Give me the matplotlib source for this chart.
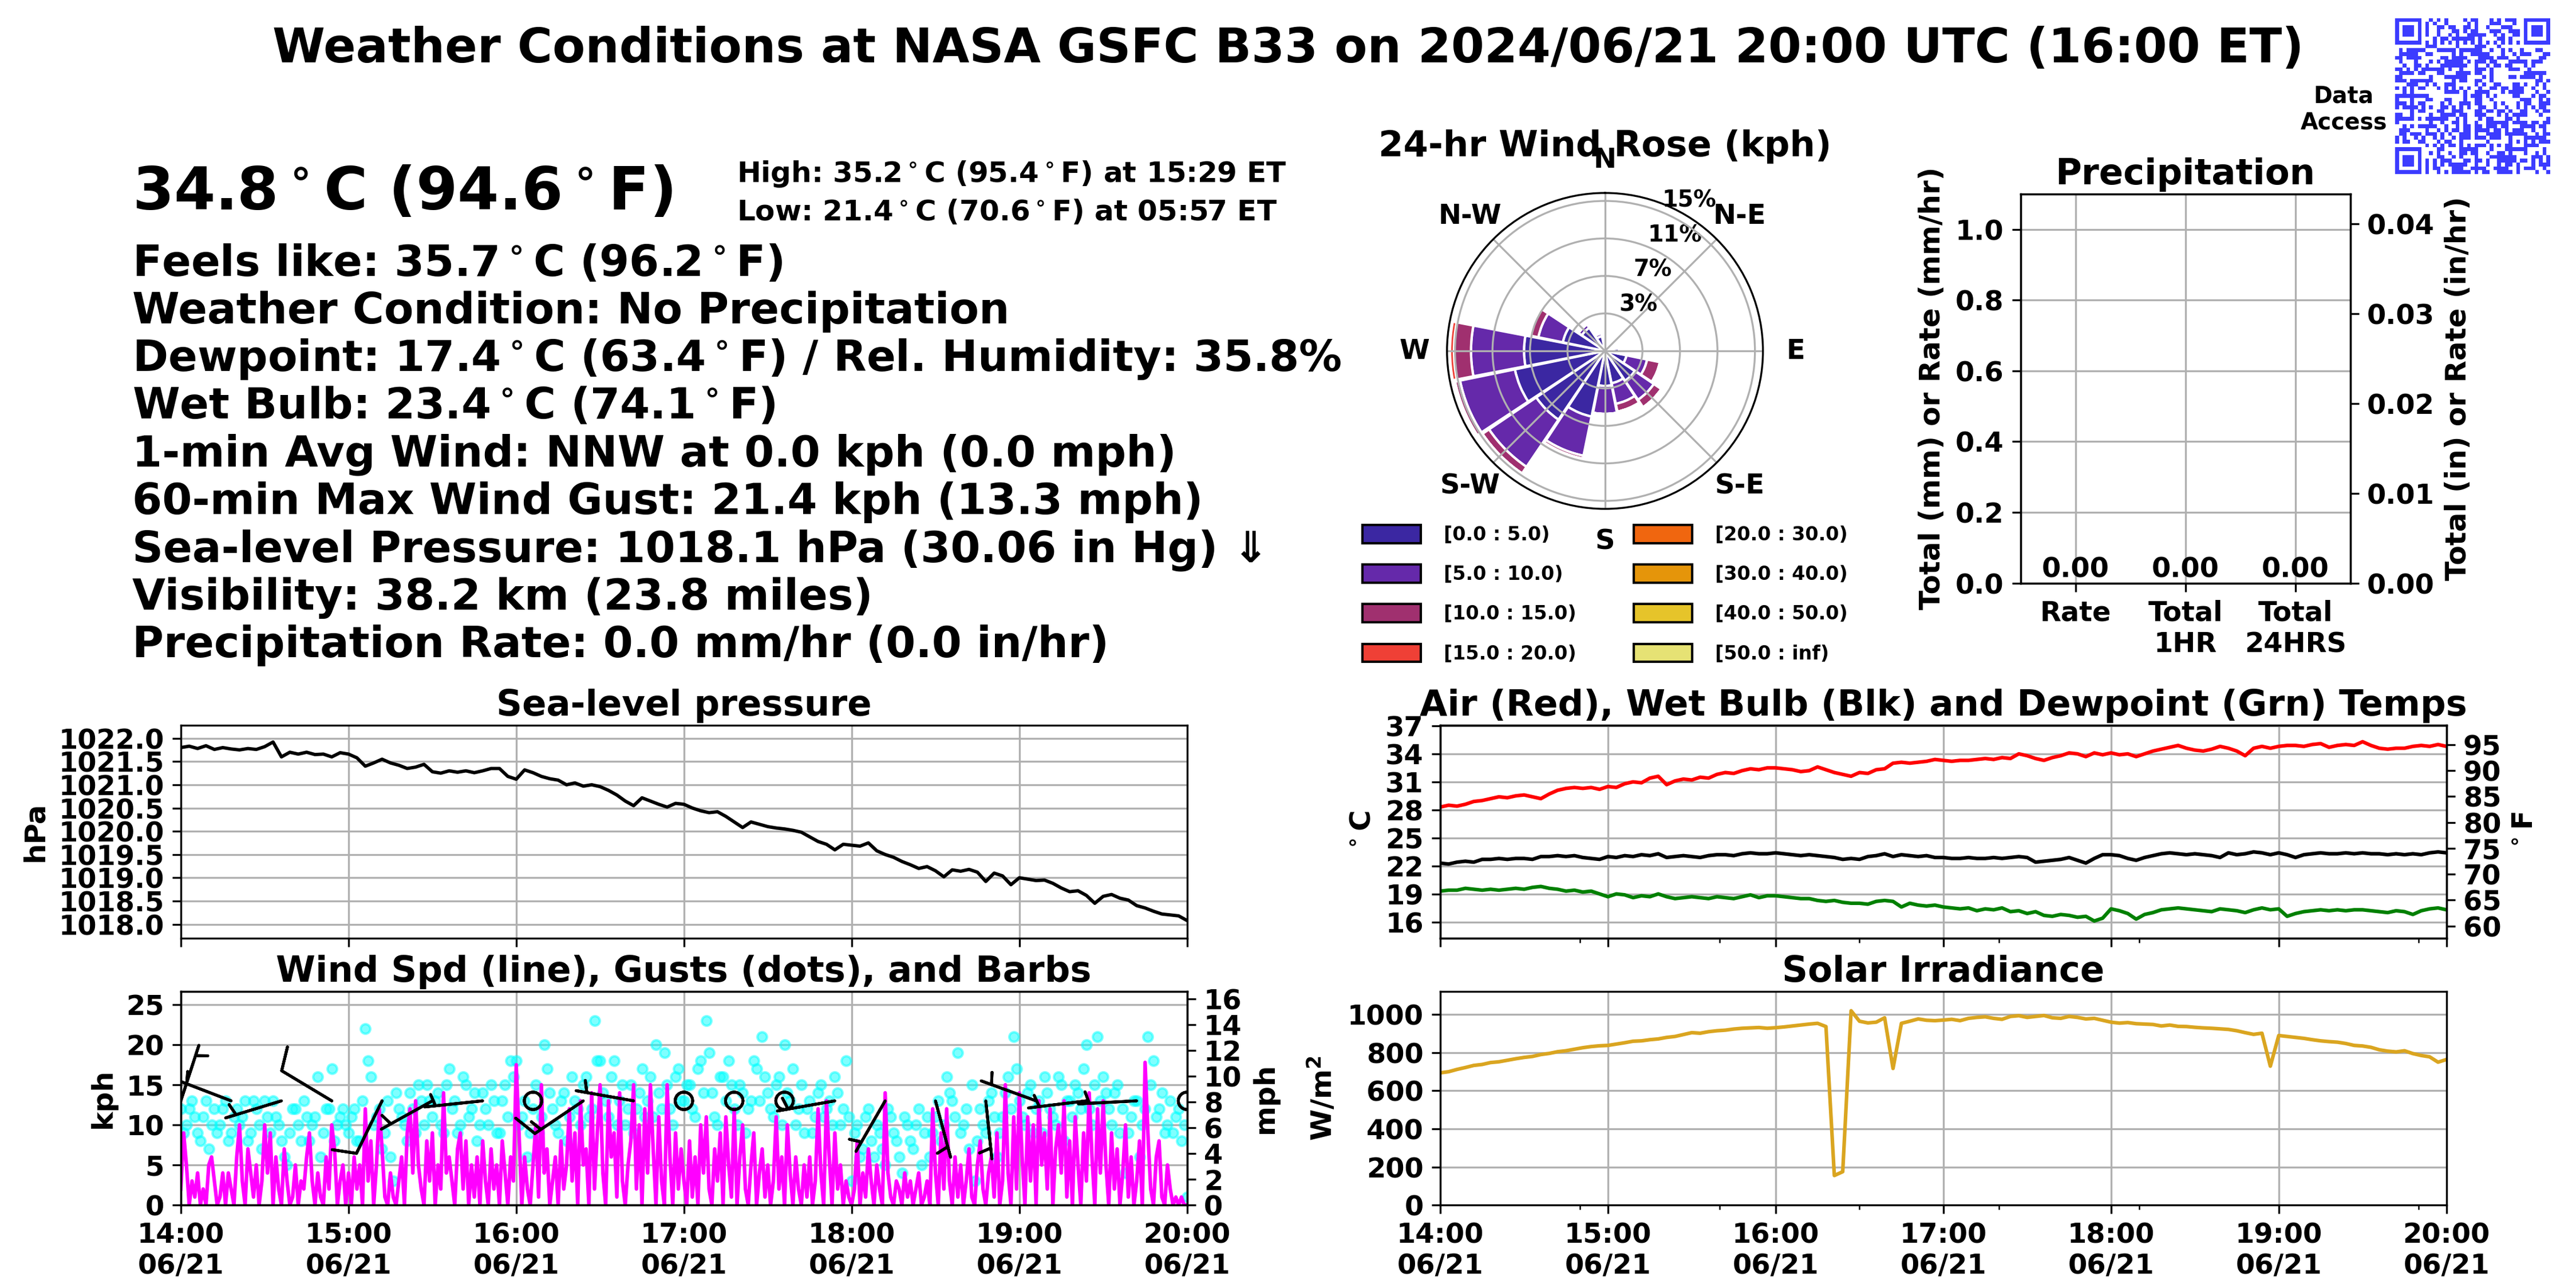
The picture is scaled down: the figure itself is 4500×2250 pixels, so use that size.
import hashlib
import numpy as np
import pandas as pd
import matplotlib
matplotlib.use("Agg")
import matplotlib.pyplot as plt
import matplotlib.dates as mdates
from matplotlib.colors import ListedColormap
from matplotlib.patches import Patch
from matplotlib.ticker import FixedLocator, FormatStrFormatter

# ---------------------------------------------------------------------------
# values
# ---------------------------------------------------------------------------
START, END = "2024-06-21 14:00", "2024-06-21 20:00"

# 3-minute samples 14:00 .. 20:00
pressure_hpa = [
    1021.80, 1021.83, 1021.78, 1021.84, 1021.76, 1021.80, 1021.77, 1021.75, 1021.78, 1021.76,
    1021.82, 1021.92, 1021.60, 1021.70, 1021.66, 1021.70, 1021.65, 1021.66, 1021.60, 1021.69,
    1021.66, 1021.58, 1021.40, 1021.47, 1021.55, 1021.47, 1021.42, 1021.35, 1021.38, 1021.44,
    1021.28, 1021.25, 1021.30, 1021.27, 1021.30, 1021.26, 1021.30, 1021.35, 1021.35, 1021.18,
    1021.12, 1021.32, 1021.26, 1021.18, 1021.13, 1021.10, 1021.00, 1021.04, 1020.97, 1021.00,
    1020.96, 1020.88, 1020.78, 1020.65, 1020.55, 1020.72, 1020.65, 1020.58, 1020.52, 1020.60,
    1020.58, 1020.50, 1020.44, 1020.40, 1020.42, 1020.32, 1020.20, 1020.08, 1020.20, 1020.15,
    1020.10, 1020.07, 1020.05, 1020.02, 1019.98, 1019.88, 1019.78, 1019.72, 1019.60, 1019.72,
    1019.70, 1019.68, 1019.75, 1019.58, 1019.50, 1019.44, 1019.35, 1019.28, 1019.20, 1019.24,
    1019.15, 1019.02, 1019.17, 1019.14, 1019.18, 1019.12, 1018.92, 1019.10, 1019.04, 1018.85,
    1019.00, 1018.97, 1018.94, 1018.95, 1018.88, 1018.78, 1018.70, 1018.72, 1018.62, 1018.45,
    1018.60, 1018.64, 1018.56, 1018.52, 1018.40, 1018.35, 1018.28, 1018.22, 1018.20, 1018.18,
    1018.08,
]

air_c = [
    28.3, 28.5, 28.4, 28.6, 28.9, 29.0, 29.2, 29.4, 29.3, 29.5,
    29.6, 29.4, 29.2, 29.7, 30.1, 30.3, 30.4, 30.3, 30.4, 30.2,
    30.5, 30.4, 30.8, 31.0, 30.9, 31.4, 31.6, 30.7, 31.1, 31.3,
    31.2, 31.5, 31.4, 31.8, 32.0, 31.9, 32.2, 32.4, 32.3, 32.5,
    32.5, 32.4, 32.3, 32.1, 32.2, 32.6, 32.3, 32.0, 31.8, 31.6,
    32.0, 31.9, 32.3, 32.4, 33.0, 33.1, 33.0, 33.1, 33.2, 33.4,
    33.3, 33.2, 33.3, 33.3, 33.4, 33.5, 33.4, 33.6, 33.5, 34.0,
    33.8, 33.5, 33.3, 33.6, 33.8, 34.1, 34.0, 33.7, 34.1, 33.9,
    34.1, 33.9, 34.0, 33.7, 34.0, 34.3, 34.5, 34.7, 34.9, 34.6,
    34.4, 34.3, 34.5, 34.8, 34.6, 34.3, 33.8, 34.6, 34.8, 34.6,
    34.8, 34.9, 34.9, 34.8, 35.0, 35.1, 34.7, 34.9, 35.0, 34.9,
    35.3, 34.9, 34.6, 34.5, 34.6, 34.6, 34.8, 34.9, 34.8, 35.0,
    34.8,
]

wetbulb_c = [
    22.3, 22.2, 22.4, 22.5, 22.4, 22.7, 22.7, 22.8, 22.7, 22.8,
    22.8, 22.7, 23.0, 23.0, 23.1, 23.0, 23.1, 22.9, 22.8, 22.7,
    23.0, 22.9, 23.1, 23.0, 23.2, 23.1, 23.3, 22.9, 23.0, 23.1,
    23.0, 22.9, 23.1, 23.2, 23.2, 23.1, 23.3, 23.4, 23.3, 23.3,
    23.4, 23.3, 23.2, 23.1, 23.2, 23.1, 23.0, 22.9, 22.7, 22.8,
    22.7, 23.0, 23.1, 23.3, 23.0, 23.2, 23.1, 23.0, 23.1, 22.9,
    22.9, 22.8, 22.8, 22.9, 22.8, 22.8, 22.9, 22.8, 22.9, 23.0,
    22.9, 22.4, 22.5, 22.6, 22.7, 22.9, 22.6, 22.3, 22.8, 23.2,
    23.2, 23.1, 22.8, 22.6, 22.9, 23.1, 23.3, 23.4, 23.3, 23.2,
    23.3, 23.2, 23.1, 22.9, 23.4, 23.2, 23.3, 23.5, 23.4, 23.2,
    23.4, 23.2, 22.9, 23.2, 23.3, 23.4, 23.3, 23.3, 23.4, 23.3,
    23.4, 23.3, 23.3, 23.2, 23.3, 23.2, 23.3, 23.2, 23.4, 23.5,
    23.4,
]

dewpoint_c = [
    19.3, 19.4, 19.4, 19.6, 19.5, 19.4, 19.5, 19.4, 19.5, 19.6,
    19.5, 19.7, 19.8, 19.6, 19.5, 19.3, 19.4, 19.2, 19.3, 19.0,
    18.7, 19.0, 18.9, 18.6, 18.8, 18.7, 19.0, 18.7, 18.5, 18.6,
    18.7, 18.6, 18.5, 18.7, 18.6, 18.5, 18.7, 18.9, 18.6, 18.8,
    18.8, 18.7, 18.6, 18.5, 18.5, 18.3, 18.2, 18.3, 18.1, 18.0,
    18.0, 17.9, 18.2, 18.3, 18.2, 17.6, 18.0, 17.8, 17.7, 17.8,
    17.6, 17.5, 17.4, 17.5, 17.2, 17.4, 17.3, 17.5, 17.1, 17.2,
    16.9, 17.1, 16.7, 16.6, 16.8, 16.7, 16.5, 16.6, 16.1, 16.4,
    17.4, 17.2, 16.9, 16.3, 16.8, 17.0, 17.3, 17.4, 17.5, 17.4,
    17.3, 17.2, 17.1, 17.4, 17.3, 17.2, 17.0, 17.3, 17.5, 17.3,
    17.4, 16.6, 16.9, 17.1, 17.2, 17.3, 17.2, 17.3, 17.2, 17.3,
    17.3, 17.2, 17.1, 17.0, 17.2, 17.1, 16.8, 17.2, 17.4, 17.5,
    17.3,
]

solar_wm2 = [
    694, 700, 712, 722, 733, 738, 748, 752, 760, 768,
    775, 780, 790, 796, 805, 810, 818, 826, 832, 836,
    838, 845, 852, 860, 862, 868, 872, 880, 885, 895,
    905, 902, 910, 915, 918, 924, 928, 930, 932, 928,
    931, 935, 940, 945, 950, 954, 937, 155, 175, 1020,
    965, 956, 960, 983, 717, 954, 965, 977, 970, 968,
    971, 975, 968, 980, 985, 988, 980, 975, 990, 994,
    985, 990, 995, 983, 980, 990, 985, 977, 980, 970,
    960, 955, 958, 952, 950, 948, 940, 945, 938, 937,
    933, 930, 928, 925, 922, 915, 905, 896, 902, 729,
    890, 885, 880, 875, 868, 862, 858, 855, 848, 838,
    835, 828, 815, 808, 804, 810, 795, 785, 778, 750,
    764,
]

# 1-minute wind speed (kph)
wind_kph = [
    2, 9, 5, 0, 3, 1, 4, 0, 2, 0, 5, 6, 3, 0, 1, 4, 0, 4, 2, 0, 6, 10, 3, 0, 7, 4, 1, 5, 0, 3,
    10, 4, 9, 0, 6, 2, 0, 7, 3, 0, 1, 5, 0, 3, 2, 6, 9, 3, 0, 4, 1, 0, 6, 2, 10, 7, 0, 3, 5, 0,
    4, 0, 6, 2, 5, 0, 12, 3, 8, 0, 5, 12, 7, 1, 0, 4, 1, 0, 3, 6, 0, 9, 12, 4, 13, 5, 2, 0, 8, 3,
    9, 0, 5, 2, 14, 4, 6, 3, 0, 7, 9, 2, 8, 0, 5, 1, 6, 0, 8, 3, 0, 7, 2, 5, 0, 8, 4, 0, 6, 3,
    17.5, 9, 0, 6, 2, 0, 5, 10, 1, 15, 4, 7, 0, 3, 6, 0, 8, 2, 5, 12, 3, 9, 0, 13, 5, 7, 0, 14, 2, 9,
    15, 4, 0, 13, 6, 9, 1, 14, 3, 0, 5, 8, 15, 2, 10, 0, 12, 4, 15, 7, 0, 11, 3, 0, 15, 6, 0, 9, 2, 7,
    3, 0, 8, 1, 6, 0, 10, 4, 11, 2, 0, 7, 3, 9, 0, 11, 5, 1, 12, 0, 6, 10, 2, 0, 5, 9, 0, 4, 7, 1,
    5, 0, 3, 11, 2, 6, 0, 10, 4, 0, 6, 2, 0, 5, 1, 6, 0, 3, 12, 4, 0, 13, 6, 0, 9, 2, 5, 0, 3, 1,
    0, 2, 8, 0, 4, 1, 7, 3, 0, 5, 2, 0, 14, 4, 1, 0, 3, 2, 0, 4, 1, 3, 0, 2, 4, 0, 1, 3, 0, 12,
    4, 0, 9, 2, 12, 3, 0, 6, 1, 5, 0, 3, 7, 1, 0, 5, 8, 2, 0, 4, 6, 1, 9, 0, 3, 15, 4, 0, 11, 2,
    14, 6, 0, 11, 3, 10, 0, 13, 5, 9, 2, 12, 0, 7, 10, 4, 13, 1, 8, 0, 11, 5, 0, 9, 3, 14, 6, 0, 12, 4,
    13, 5, 0, 9, 2, 7, 0, 4, 10, 1, 6, 0, 3, 8, 0, 17.8, 9, 2, 0, 6, 8, 1, 0, 5, 2, 0, 1, 0, 1, 0,
    0,
]

# gusts (kph) at even minutes 14:00 .. 20:00
gust_even_kph = [
    12, 10, 13, 9, 11, 7, 12, 10, 13, 9, 12, 11, 8, 13, 10,
    13, 9, 11, 8, 5, 12, 10, 13, 8, 11, 6, 12, 17, 10, 12,
    9, 12, 8, 22, 16, 11, 7, 13, 3, 12, 10, 14, 9, 13, 15,
    11, 14, 9, 17, 13, 10, 15, 12, 8, 14, 10, 13, 9, 15, 18,
    18, 11, 6, 12, 9, 20, 14, 10, 13, 8, 16, 12, 15, 11, 23,
    18, 13, 16, 10, 15, 12, 9, 14, 11, 16, 20, 12, 15, 10, 17,
    13, 15, 11, 18, 23, 14, 10, 16, 18, 12, 15, 9, 13, 17, 21,
    14, 11, 16, 20, 13, 10, 15, 12, 9, 14, 11, 13, 16, 10, 18,
    3, 10, 7, 12, 6, 9, 5, 11, 8, 4, 10, 7, 12, 9, 6,
    11, 8, 16, 13, 19, 10, 7, 3, 12, 9, 14, 6, 11, 16, 21,
    13, 10, 15, 12, 9, 14, 11, 16, 8, 13, 15, 12, 20, 10, 21,
    16, 12, 14, 9, 4, 11, 13, 10, 21, 18, 12, 9, 13, 11, 8,
    1,
]

# gusts (kph) at odd minutes 14:01 .. 19:59
gust_odd_kph = [
    9, 12, 11, 8, 13, 10, 9, 12, 8, 11, 10, 13, 9, 12, 7,
    11, 13, 10, 6, 9, 12, 8, 11, 10, 16, 9, 12, 8, 11, 10,
    11, 8, 13, 18, 10, 12, 9, 6, 14, 11, 8, 12, 15, 10, 13,
    13, 10, 15, 12, 9, 16, 11, 14, 10, 12, 15, 9, 13, 11, 16,
    10, 13, 9, 15, 11, 17, 12, 9, 14, 11, 13, 10, 16, 12, 18,
    14, 11, 18, 13, 10, 15, 12, 17, 13, 11, 14, 19, 12, 16, 13,
    15, 12, 17, 14, 19, 11, 16, 13, 15, 10, 14, 12, 18, 13, 16,
    12, 15, 10, 14, 17, 12, 9, 13, 11, 15, 12, 10, 14, 12, 11,
    9, 6, 11, 8, 10, 7, 12, 9, 6, 11, 8, 10, 5, 11, 9,
    13, 10, 14, 11, 9, 12, 15, 8, 10, 13, 11, 9, 14, 12, 17,
    11, 14, 9, 13, 16, 12, 10, 15, 13, 11, 14, 17, 12, 15, 13,
    14, 10, 15, 12, 9, 13, 6, 12, 15, 11, 14, 10, 9, 12, 10,
]

# barbs every 18 minutes: speed (kph) and direction wind comes from (deg)
barb_kph = [5, 5, 5, 10, 10, 5, 5, 0, 15, 5, 0, 0, 0, 5, 5, 5, 5, 5, 5, 5, 0]
barb_dir = [18, 291, 253, 301, 206, 241, 264, 0, 236, 280, 0, 0, 0, 260, 210, 165, 174, 290, 263, 267, 0]
barb_level_kph = 13.0

# wind rose, percent per sector (N, NNE, ... NNW) and speed bin
rose_bins = ["[0.0 : 5.0)", "[5.0 : 10.0)", "[10.0 : 15.0)", "[15.0 : 20.0)",
             "[20.0 : 30.0)", "[30.0 : 40.0)", "[40.0 : 50.0)", "[50.0 : inf)"]
rose_colors = ["#3b27a2", "#6529aa", "#a0306f", "#ef4036",
               "#f0660f", "#e5950a", "#e6c42a", "#e6e274"]
rose_0_5 = [0.4, 0.2, 0.1, 0.2, 1.4, 2.2, 3.6, 3.3, 3.5, 6.7, 8.3, 9.2, 8.1, 4.3, 2.8, 1.5]
rose_5_10 = [0.1, 0.0, 0.0, 0.1, 0.1, 2.1, 2.3, 2.1, 2.8, 4.0, 5.7, 5.6, 5.3, 2.5, 0.4, 0.3]
rose_10_15 = [0.0, 0.0, 0.0, 0.0, 0.0, 1.3, 0.9, 0.8, 0.0, 0.3, 0.8, 0.5, 1.7, 0.8, 0.0, 0.0]
rose_15_20 = [0.0, 0.0, 0.0, 0.0, 0.0, 0.1, 0.0, 0.0, 0.0, 0.0, 0.0, 0.1, 0.4, 0.0, 0.0, 0.0]
rose_rgrid = [3.75, 7.5, 11.25, 15.0]
rose_rgrid_labels = ["3%", "7%", "11%", "15%"]
rose_compass = ["N", "N-E", "E", "S-E", "S", "S-W", "W", "N-W"]

precip_labels = ["Rate", "Total\n1HR", "Total\n24HRS"]
precip_mm = [0.0, 0.0, 0.0]

title = "Weather Conditions at NASA GSFC B33 on 2024/06/21 20:00 UTC (16:00 ET)"
headline = "34.8$^\\circ$C (94.6$^\\circ$F)"
high_line = "High: 35.2$^\\circ$C (95.4$^\\circ$F) at 15:29 ET"
low_line = "Low: 21.4$^\\circ$C (70.6$^\\circ$F) at 05:57 ET"
info_lines = [
    "Feels like: 35.7$^\\circ$C (96.2$^\\circ$F)",
    "Weather Condition: No Precipitation",
    "Dewpoint: 17.4$^\\circ$C (63.4$^\\circ$F) / Rel. Humidity: 35.8%",
    "Wet Bulb: 23.4$^\\circ$C (74.1$^\\circ$F)",
    "1-min Avg Wind: NNW at 0.0 kph (0.0 mph)",
    "60-min Max Wind Gust: 21.4 kph (13.3 mph)",
    "Sea-level Pressure: 1018.1 hPa (30.06 in Hg) \u21d3",
    "Visibility: 38.2 km (23.8 miles)",
    "Precipitation Rate: 0.0 mm/hr (0.0 in/hr)",
]

# ---------------------------------------------------------------------------
plt.rcParams["font.weight"] = "bold"
plt.rcParams["axes.titleweight"] = "bold"
plt.rcParams["axes.labelweight"] = "bold"
plt.rcParams["xtick.labelsize"] = 11.5
plt.rcParams["ytick.labelsize"] = 11.5
plt.rcParams["axes.labelsize"] = 12
plt.rcParams["axes.titlesize"] = 15

fig = plt.figure(figsize=(15, 7.5), dpi=300)
H = 2250.0

fig.text(0.5, 1 - 108.7 / H, title, ha="center", va="baseline", fontsize=20)
fig.text(0.0513, 1 - 366 / H, headline, ha="left", va="baseline", fontsize=25)
fig.text(0.286, 1 - 318 / H, high_line, ha="left", va="baseline", fontsize=12)
fig.text(0.286, 1 - 384.5 / H, low_line, ha="left", va="baseline", fontsize=12)
for i, line in enumerate(info_lines):
    fig.text(0.0513, 1 - (481.5 + 83.3 * i) / H, line, ha="left", va="baseline", fontsize=18)

# ---- QR block ----
n = 41
bits = []
h = b"gsfc-b33-data-access"
while len(bits) < n * n:
    h = hashlib.sha256(h).digest()
    for byte in h:
        for k in range(8):
            bits.append((byte >> k) & 1)
qr = np.array(bits[: n * n]).reshape(n, n)
for r0, c0 in [(0, 0), (0, n - 7), (n - 7, 0)]:
    qr[max(r0 - 1, 0):min(r0 + 8, n), max(c0 - 1, 0):min(c0 + 8, n)] = 0
    qr[r0:r0 + 7, c0:c0 + 7] = 1
    qr[r0 + 1:r0 + 6, c0 + 1:c0 + 6] = 0
    qr[r0 + 2:r0 + 5, c0 + 2:c0 + 5] = 1
qr[6, 8:n - 8] = (np.arange(8, n - 8) + 1) % 2
qr[8:n - 8, 6] = (np.arange(8, n - 8) + 1) % 2
a = n - 9
qr[a - 2:a + 3, a - 2:a + 3] = 1
qr[a - 1:a + 2, a - 1:a + 2] = 0
qr[a, a] = 1
ax_qr = fig.add_axes([0.9298, 0.865, 0.06, 0.121])
ax_qr.imshow(qr, cmap=ListedColormap(["white", "#3c3cff"]), interpolation="nearest", aspect="auto")
ax_qr.axis("off")
fig.text(0.9098, 1 - 179 / H, "Data", ha="center", va="baseline", fontsize=9.5)
fig.text(0.9098, 1 - 226 / H, "Access", ha="center", va="baseline", fontsize=9.5)

# ---- wind rose ----
ax_r = fig.add_axes([0.5617, 0.6049, 0.1227, 0.2453], projection="polar")
ax_r.set_theta_zero_location("N")
ax_r.set_theta_direction(-1)
theta = np.deg2rad(np.arange(16) * 22.5)
bottom = np.zeros(16)
for vals, col in zip([rose_0_5, rose_5_10, rose_10_15, rose_15_20], rose_colors):
    vals = np.array(vals)
    ax_r.bar(theta, vals, width=np.deg2rad(22.5) * 0.97, bottom=bottom,
             color=col, edgecolor="white", linewidth=1.0)
    bottom += vals
ax_r.set_ylim(0, 15.8)
ax_r.set_rgrids(rose_rgrid, rose_rgrid_labels, fontsize=9.5)
ax_r.set_thetagrids(np.arange(0, 360, 45), rose_compass, fontsize=11.5)
ax_r.tick_params(axis="x", pad=3.2)
fig.text(0.6230, 1 - 273 / H, "24-hr Wind Rose (kph)", ha="center", va="baseline", fontsize=15)
handles = [Patch(facecolor=c, edgecolor="black", label=l) for c, l in zip(rose_colors, rose_bins)]
fig.legend(handles=handles, loc="upper left", bbox_to_anchor=(0.5289, 0.5924), ncol=2,
           frameon=False, fontsize=8, handlelength=3.06, handleheight=1.08,
           handletextpad=1.2, columnspacing=3.0, labelspacing=1.05,
           borderpad=0, borderaxespad=0)

# ---- precipitation ----
ax_pr = fig.add_axes([0.7844, 0.5473, 0.128, 0.3021])
bars = ax_pr.bar(range(len(precip_mm)), precip_mm, color="tab:blue")
ax_pr.bar_label(bars, fmt="%.2f", fontsize=11.5)
ax_pr.set_xticks(range(len(precip_mm)))
ax_pr.set_xticklabels(precip_labels)
ax_pr.set_xlim(-0.5, 2.5)
ax_pr.set_ylim(0, 1.1)
ax_pr.grid(True)
ax_pr.set_title("Precipitation", pad=4)
ax_pr.set_ylabel("Total (mm) or Rate (mm/hr)")
ax_pr2 = ax_pr.twinx()
ax_pr2.set_ylim(0, 1.1 / 25.4)
ax_pr2.yaxis.set_major_locator(FixedLocator([0, 0.01, 0.02, 0.03, 0.04]))
ax_pr2.yaxis.set_major_formatter(FormatStrFormatter("%.2f"))
ax_pr2.set_ylabel("Total (in) or Rate (in/hr)")

# ---- time series panels ----
t3 = pd.date_range(START, END, periods=len(pressure_hpa))
t_wind = pd.date_range(START, END, periods=len(wind_kph))
t_gust_even = pd.date_range(START, END, periods=len(gust_even_kph))
t_gust_odd = pd.date_range("2024-06-21 14:01", periods=len(gust_odd_kph), freq="2min")
t_barb = pd.date_range(START, END, periods=len(barb_kph))

ax_p = fig.add_axes([0.0702, 0.2716, 0.3906, 0.1653])
ax_w = fig.add_axes([0.0702, 0.0644, 0.3906, 0.1658], sharex=ax_p)
ax_t = fig.add_axes([0.5591, 0.2716, 0.3906, 0.1653])
ax_s = fig.add_axes([0.5591, 0.0644, 0.3906, 0.1658], sharex=ax_t)

ax_p.plot(t3, pressure_hpa, color="black", lw=1.4)
ax_p.set_ylim(1017.70, 1022.28)
ax_p.set_yticks(np.arange(1018.0, 1022.01, 0.5))
ax_p.yaxis.set_major_formatter(FormatStrFormatter("%.1f"))
ax_p.set_ylabel("hPa")
ax_p.set_title("Sea-level pressure", pad=4)

ax_w.plot(t_gust_even, gust_even_kph, "o", color="cyan", alpha=0.5, markersize=4)
ax_w.plot(t_gust_odd, gust_odd_kph, "o", color="cyan", alpha=0.5, markersize=4)
ax_w.plot(t_wind, wind_kph, color="magenta", lw=1.5)
spd = np.array(barb_kph, dtype=float)
rad = np.deg2rad(barb_dir)
ax_w.barbs(mdates.date2num(t_barb), np.full(len(spd), barb_level_kph),
           -spd * np.sin(rad), -spd * np.cos(rad),
           length=7, linewidth=1.2, color="black", zorder=5)
ax_w.set_ylim(0, 26.64)
ax_w.set_yticks(range(0, 26, 5))
ax_w.set_ylabel("kph")
ax_w.set_title("Wind Spd (line), Gusts (dots), and Barbs", pad=4)
ax_w2 = ax_w.twinx()
ax_w2.set_ylim(0, 26.64 * 0.621371)
ax_w2.set_yticks(range(0, 17, 2))
ax_w2.set_ylabel("mph")

ax_t.plot(t3, air_c, color="red", lw=1.5)
ax_t.plot(t3, wetbulb_c, color="black", lw=1.5)
ax_t.plot(t3, dewpoint_c, color="green", lw=1.5)
ax_t.set_ylim(14.26, 37.06)
ax_t.set_yticks(range(16, 38, 3))
ax_t.set_ylabel("$^\\circ$C")
ax_t.set_title("Air (Red), Wet Bulb (Blk) and Dewpoint (Grn) Temps", pad=4)
ax_t.xaxis.set_minor_locator(FixedLocator(mdates.date2num(pd.date_range(START, END, freq="50min"))))
ax_t2 = ax_t.twinx()
ax_t2.set_ylim(14.26 * 9 / 5 + 32, 37.06 * 9 / 5 + 32)
ax_t2.set_yticks(range(60, 96, 5))
ax_t2.set_ylabel("$^\\circ$F")

ax_s.plot(t3, solar_wm2, color="goldenrod", lw=1.5)
ax_s.set_ylim(0, 1121)
ax_s.set_yticks(range(0, 1001, 200))
ax_s.set_ylabel("W/m$^2$")
ax_s.set_title("Solar Irradiance", pad=4)

for ax in (ax_p, ax_w, ax_t, ax_s):
    ax.set_xlim(pd.Timestamp(START), pd.Timestamp(END))
    ax.xaxis.set_major_locator(mdates.HourLocator())
    ax.xaxis.set_major_formatter(mdates.DateFormatter("%H:%M\n%m/%d"))
    ax.grid(True)
ax_p.tick_params(labelbottom=False)
ax_t.tick_params(labelbottom=False)

fig.savefig("out.png", dpi=300)
